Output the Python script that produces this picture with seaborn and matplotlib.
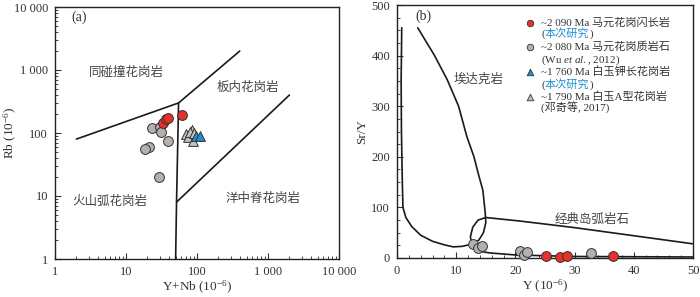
import numpy as np
import pandas as pd
import matplotlib
matplotlib.use("Agg")
import matplotlib.pyplot as plt
import seaborn as sns
from matplotlib.ticker import FixedLocator, MultipleLocator, NullFormatter, LogLocator

# ---------------- data ----------------
# Panel (a): Rb vs Y+Nb
a_red_x = [33, 37, 39, 62]
a_red_y = [145, 165, 175, 195]
a_gray_x = [23, 30, 31, 39, 21, 18.5, 29]
a_gray_y = [120, 125, 104, 75, 60, 56, 20]
a_gtri_x = [70, 85, 75, 88, 80, 92]
a_gtri_y = [96, 112, 86, 75, 105, 100]
a_btri_x = [96, 112]
a_btri_y = [88, 90]

# Pearce et al. (1984) boundaries
b1_x = [2, 55, 400]
b1_y = [80, 300, 2000]
b2_x = [55, 51.5, 50]
b2_y = [300, 8, 1]
b3_x = [51.5, 2000]
b3_y = [8, 400]

# Panel (b): Sr/Y vs Y
b_red_x = [25.2, 27.6, 28.8, 36.5]
b_red_y = [3, 1, 4, 3]
b_gray_x = [12.8, 13.7, 14.4, 20.8, 21.4, 22.0, 32.7]
b_gray_y = [28, 20, 23, 13, 6, 12, 10]

adakite_x = [0.8, 0.7, 0.75, 0.9, 1.0, 1.5, 2.5, 4.0, 6.0, 8.0, 9.5, 11.0, 12.5,
             13.8, 14.6, 15.0, 14.9, 14.5, 13.7, 13.0, 11.8, 10.4, 8.5, 6.3, 3.5]
adakite_y = [455, 350, 250, 150, 100, 80, 62, 45, 33, 26, 22, 23, 27,
             35, 50, 70, 90, 134, 168, 200, 240, 300, 352, 401, 455]
arc_x = [50, 30, 20.8, 15.0, 13.7, 12.8, 12.4, 12.7, 13.5, 15.7, 20, 30, 50]
arc_y = [28, 60, 73, 80, 75, 61, 42, 22, 14, 10, 6, 3, 2]

a_ticks = [1, 10, 100, 1000, 10000]
a_ticklabels = ["1", "10", "100", "1 000", "10 000"]
b_xticks = [0, 10, 20, 30, 40, 50]
b_yticks = [0, 100, 200, 300, 400, 500]

legend_lines = [
    ("~2 090 Ma 马元花岗闪长岩", None),
    ("~2 080 Ma 马元花岗质岩石", "(Wu $\\it{et\\ al.}$, 2012)"),
    ("~1 760 Ma 白玉钾长花岗岩", None),
    ("~1 790 Ma 白玉A型花岗岩", "(邓奇等, 2017)"),
]

# ---------------- style ----------------
sns.set_style("ticks")
plt.rcParams['font.family'] = ['Liberation Serif', 'Noto Sans CJK SC']
plt.rcParams['mathtext.fontset'] = 'custom'
plt.rcParams['mathtext.rm'] = 'Liberation Serif'
plt.rcParams['mathtext.it'] = 'Liberation Serif:italic'
plt.rcParams['axes.unicode_minus'] = False

RED = "#e8302a"
GRAY = "#b5b0ab"
BLUE = "#1e8fd0"
GTRI = "#c4c0bb"
EDGE = "#333333"
LINE = "#1a1a1a"
TXT = "#333333"
CN = "#444444"

fig = plt.figure(figsize=(7.0, 2.97), dpi=100)
ax1 = fig.add_axes([55/700, 1-259/297, 284/700, 252/297])
ax2 = fig.add_axes([397/700, 1-258/297, 296/700, 253/297])

# ---------- panel a ----------
ax1.set_xscale('log'); ax1.set_yscale('log')
ax1.set_xlim(1, 10000); ax1.set_ylim(1, 10000)
for xs, ys in [(b1_x, b1_y), (b2_x, b2_y), (b3_x, b3_y)]:
    ax1.plot(xs, ys, color=LINE, lw=1.2)

sns.scatterplot(x=a_gray_x, y=a_gray_y, ax=ax1, color=GRAY, edgecolor=EDGE, s=50, linewidth=0.7, marker='o', zorder=3)
sns.scatterplot(x=a_red_x, y=a_red_y, ax=ax1, color=RED, edgecolor=EDGE, s=50, linewidth=0.7, marker='o', zorder=4)
sns.scatterplot(x=a_gtri_x, y=a_gtri_y, ax=ax1, color=GTRI, edgecolor=EDGE, s=50, linewidth=0.7, marker='^', zorder=3)
sns.scatterplot(x=a_btri_x, y=a_btri_y, ax=ax1, color=BLUE, edgecolor=EDGE, s=50, linewidth=0.7, marker='^', zorder=4)

ax1.xaxis.set_major_locator(FixedLocator(a_ticks))
ax1.yaxis.set_major_locator(FixedLocator(a_ticks))
ax1.set_xticklabels(a_ticklabels)
ax1.set_yticklabels(a_ticklabels)
ax1.xaxis.set_minor_locator(LogLocator(base=10, subs=np.arange(2, 10), numticks=20))
ax1.yaxis.set_minor_locator(LogLocator(base=10, subs=np.arange(2, 10), numticks=20))
ax1.xaxis.set_minor_formatter(NullFormatter())
ax1.yaxis.set_minor_formatter(NullFormatter())

ax1.text(10, 900, "同碰撞花岗岩", ha='center', va='center', fontsize=9, color=CN)
ax1.text(520, 520, "板内花岗岩", ha='center', va='center', fontsize=9, color=CN)
ax1.text(6, 8, "火山弧花岗岩", ha='center', va='center', fontsize=9, color=CN)
ax1.text(850, 9, "洋中脊花岗岩", ha='center', va='center', fontsize=9, color=CN)
ax1.text(0.085, 0.96, "(a)", transform=ax1.transAxes, ha='center', va='center', fontsize=10, color=TXT)
ax1.set_xlabel("Y+Nb (10$^{-6}$)", fontsize=9.5, color=TXT, labelpad=1)
ax1.set_ylabel("Rb (10$^{-6}$)", fontsize=9.5, color=TXT)
ax1.yaxis.set_label_coords(-36/284, 0.5)

# ---------- panel b ----------
ax2.set_xlim(0, 50); ax2.set_ylim(0, 500)
ax2.plot(adakite_x, adakite_y, color=LINE, lw=1.2)
ax2.plot(arc_x, arc_y, color=LINE, lw=1.2)
sns.scatterplot(x=b_gray_x, y=b_gray_y, ax=ax2, color=GRAY, edgecolor=EDGE, s=50, linewidth=0.7, marker='o', zorder=3, clip_on=False)
sns.scatterplot(x=b_red_x, y=b_red_y, ax=ax2, color=RED, edgecolor=EDGE, s=50, linewidth=0.7, marker='o', zorder=4, clip_on=False)
ax2.xaxis.set_major_locator(FixedLocator(b_xticks))
ax2.yaxis.set_major_locator(FixedLocator(b_yticks))
ax2.xaxis.set_minor_locator(MultipleLocator(2))
ax2.yaxis.set_minor_locator(MultipleLocator(25))
ax2.text(13.8, 352, "埃达克岩", ha='center', va='center', fontsize=9, color=CN)
ax2.text(33, 76, "经典岛弧岩石", ha='center', va='center', fontsize=9, color=CN)
ax2.text(0.09, 0.955, "(b)", transform=ax2.transAxes, ha='center', va='center', fontsize=10, color=TXT)
ax2.set_xlabel("Y (10$^{-6}$)", fontsize=9.5, color=TXT, labelpad=1)
ax2.set_ylabel("Sr/Y", fontsize=9.5, color=TXT)
ax2.yaxis.set_label_coords(-29/296, 0.5)

# legend (manual)
FS = 8.0
mk = [('o', RED), ('o', GRAY), ('^', BLUE), ('^', GTRI)]
row_y = [0.929, 0.834, 0.735, 0.636]
sub_y = [0.885, 0.783, 0.684, 0.593]
for i, ((m, c), (l1, l2)) in enumerate(zip(mk, legend_lines)):
    ax2.scatter([0.45], [row_y[i]], transform=ax2.transAxes, marker=m, s=22,
                color=c, edgecolor=EDGE, linewidth=0.6, zorder=5)
    ax2.text(0.487, row_y[i], l1, transform=ax2.transAxes, ha='left', va='center',
             fontsize=FS, color=TXT)
    if l2 is None:
        t1 = ax2.text(0.487, sub_y[i], "(", transform=ax2.transAxes, ha='left', va='center',
                      fontsize=FS, color=TXT)
        t2 = ax2.annotate("本次研究", xy=(1, 0), xycoords=t1, ha='left', va='bottom',
                          fontsize=FS, color=BLUE)
        ax2.annotate(")", xy=(1, 0), xycoords=t2, ha='left', va='bottom', fontsize=FS, color=TXT)
    else:
        ax2.text(0.487, sub_y[i], l2, transform=ax2.transAxes, ha='left', va='center',
                 fontsize=FS, color=TXT)

for ax in (ax1, ax2):
    ax.tick_params(which='major', direction='in', length=4, width=0.8, labelsize=9,
                   colors=TXT, top=False, right=False, pad=5)
    ax.tick_params(which='minor', direction='in', length=2, width=0.6, top=False, right=False)
    for s in ax.spines.values():
        s.set_linewidth(1.0)
        s.set_color('#222222')
    ax.set_facecolor('white')

fig.savefig("out.png", dpi=100, facecolor='white')
